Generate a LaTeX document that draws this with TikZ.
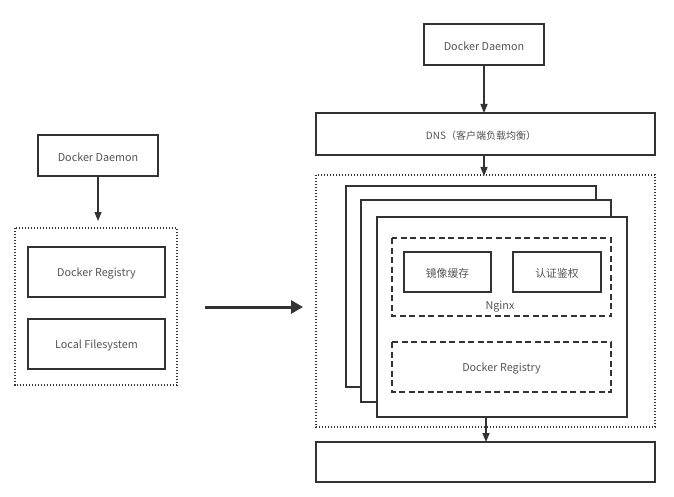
\documentclass[tikz,border=0pt]{standalone}
\usepackage{fontspec}
\setmainfont{Noto Sans CJK SC}
\usetikzlibrary{arrows.meta}
\definecolor{ln}{HTML}{333333}
\definecolor{tx}{HTML}{555555}
\tikzset{
  box/.style={draw=ln, line width=1.3pt, fill=white},
  dotbox/.style={draw=ln, line width=1.2pt, dash pattern=on 1.2pt off 1.8pt},
  dashbox/.style={draw=ln, line width=1.2pt, dash pattern=on 6pt off 3.5pt},
  lbl/.style={text=tx, font=\fontsize{10.8}{12}\selectfont, yshift=-1.5pt},
  arr/.style={draw=ln, line width=1.2pt, -{Triangle[length=9pt,width=7pt]}},
  bigarr/.style={draw=ln, line width=3pt, -{Triangle[length=12pt,width=13pt]}}
}
\begin{document}
\begin{tikzpicture}[x=1pt,y=-1pt]
\useasboundingbox (0,0) rectangle (674,497);
% left side
\draw[box] (38,135) rectangle (158,176);
\node[lbl] (ldd) at (98,155.5) {Docker Daemon};
\coordinate (lddb) at (98,176);
\draw[dotbox] (15,228) rectangle (177,385);
\coordinate (ldot) at (98,221);
\draw[box] (28,247) rectangle (165,297);
\node[lbl] (lreg) at (96.5,272) {Docker Registry};
\draw[box] (28,319) rectangle (165,369);
\node[lbl] (lfs) at (96.5,344) {Local Filesystem};
\draw[arr] (lddb) -- (ldot);
% big arrow
\coordinate (ba) at (205,307);
\coordinate (bb) at (303,307);
\draw[bigarr] (ba) -- (bb);
% right side
\draw[box] (424,24) rectangle (544,65);
\node[lbl] (rdd) at (484,44.5) {Docker Daemon};
\coordinate (rddb) at (484,65);
\draw[box] (316,113) rectangle (655,155);
\node[lbl, font=\fontsize{10}{12}\selectfont] (dns) at (481,134) {DNS（客户端负载均衡）};
\coordinate (dnst) at (484,113);
\coordinate (dnsb) at (484,155);
\coordinate (dott) at (484,176);
\draw[arr] (rddb) -- (dnst);
\draw[dotbox] (316,175) rectangle (655,427);
\draw[arr] (dnsb) -- (dott);
\draw[box] (346,186) rectangle (596,387);
\draw[box] (361,200) rectangle (611,402);
\draw[box] (377,217) rectangle (627,417);
\draw[dashbox] (392,238) rectangle (611,316);
\draw[box] (404,252) rectangle (491,292);
\node[lbl] (cache) at (447.5,272) {镜像缓存};
\draw[box] (513,252) rectangle (601,292);
\node[lbl] (auth) at (557,272) {认证鉴权};
\node[lbl] (nginx) at (500,305.5) {Nginx};
\draw[dashbox] (392,342) rectangle (611,392);
\node[lbl] (rreg) at (501.5,367) {Docker Registry};
\coordinate (stackb) at (486,417);
\draw[box] (316,442) rectangle (655,482);
\coordinate (bott) at (486,442);
\draw[arr] (stackb) -- (bott);
\end{tikzpicture}
\end{document}
